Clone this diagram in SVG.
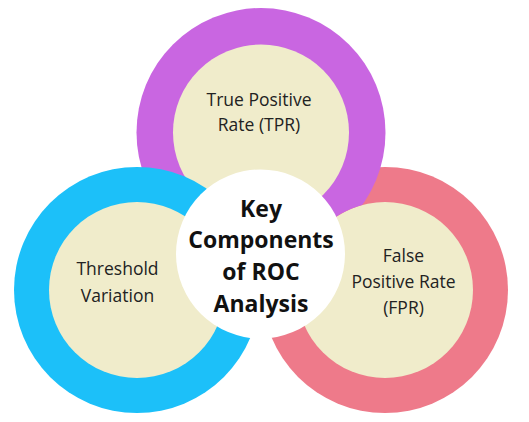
<svg xmlns="http://www.w3.org/2000/svg" width="529" height="422" viewBox="0 0 529 422">
<style>
.cream{fill:#F0ECCB}
.lbl{font-family:"Open Sans","Liberation Sans",sans-serif;font-size:17.5px;fill:#222;text-anchor:middle}
.ttl{font-family:"Open Sans","Liberation Sans",sans-serif;font-size:23px;font-weight:bold;fill:#111;text-anchor:middle}
</style>
<defs>
<clipPath id="notPinkCream">
<path clip-rule="evenodd" d="M0 0H529V422H0Z M385 202a88 88 0 1 0 0.01 0Z"/>
</clipPath>
</defs>
<rect width="529" height="422" fill="#fff"/>
<g id="node-fpr">
<circle cx="385" cy="290" r="123" fill="#EE7A8A"/>
<circle class="cream" cx="385" cy="290" r="88"/>
<text class="lbl" x="403.5" y="262">False</text>
<text class="lbl" x="403.5" y="288">Positive Rate</text>
<text class="lbl" x="403.5" y="314">(FPR)</text>
</g>
<g id="node-tpr" clip-path="url(#notPinkCream)">
<circle cx="261" cy="132.5" r="124.5" fill="#C966E1"/>
<circle class="cream" cx="261" cy="132.5" r="88"/>
<text class="lbl" x="259" y="106">True Positive</text>
<text class="lbl" x="259" y="131">Rate (TPR)</text>
</g>
<g id="node-threshold">
<circle cx="137" cy="290" r="123" fill="#1CC0F9"/>
<circle class="cream" cx="137" cy="290" r="88"/>
<text class="lbl" x="117.5" y="275">Threshold</text>
<text class="lbl" x="117.5" y="301.5">Variation</text>
</g>
<g id="node-center">
<circle cx="260.5" cy="254" r="84.5" fill="#fff"/>
<text class="ttl" x="261" y="217">Key</text>
<text class="ttl" x="261" y="248">Components</text>
<text class="ttl" x="261" y="280">of ROC</text>
<text class="ttl" x="261" y="311.5">Analysis</text>
</g>
<g id="connectors"/>
</svg>
